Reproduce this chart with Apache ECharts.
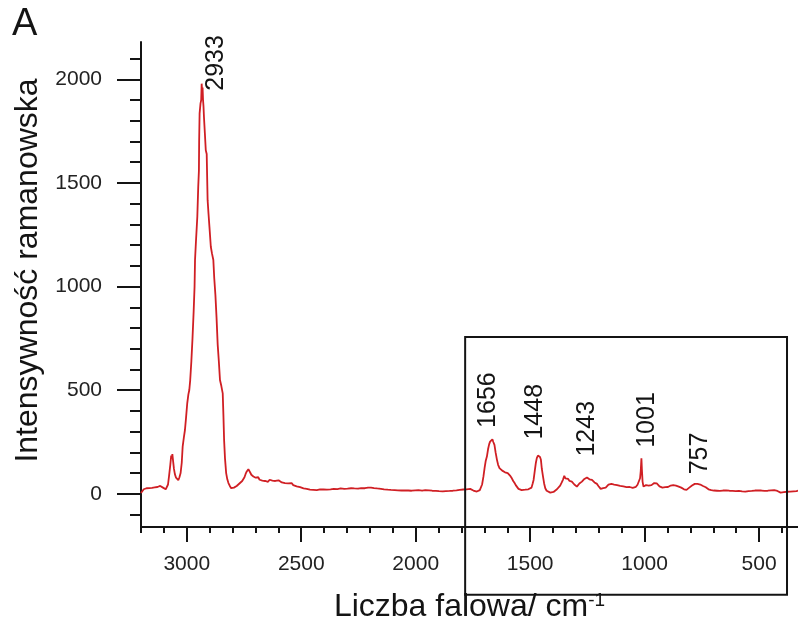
<!DOCTYPE html>
<html>
<head>
<meta charset="utf-8">
<script src="https://cdn.jsdelivr.net/npm/echarts@6/dist/echarts.min.js"></script>
<style>
  html, body { margin: 0; padding: 0; background: #fff; }
  #chart { width: 798px; height: 639px; }
</style>
</head>
<body>
<div id="chart"></div>
<script>
// Raman spectrum: [wavenumber cm-1, intensity]
const chRegion = [
  [3200, 4], [3195, 12], [3188, 22], [3182, 30], [3176, 27], [3170, 34], [3164, 28], [3158, 33],
  [3152, 29], [3146, 36], [3140, 31], [3134, 27], [3128, 33], [3122, 30], [3116, 38], [3110, 33],
  [3104, 30], [3098, 26], [3092, 22], [3087, 28], [3082, 45], [3077, 90], [3072, 140], [3068, 185],
  [3065, 170], [3063, 192], [3060, 160], [3056, 120], [3052, 95], [3047, 78], [3042, 70], [3037, 66],
  [3032, 80], [3027, 100], [3022, 150], [3018, 228], [3013, 270], [3008, 308], [3003, 370], [2998, 437],
  [2993, 480], [2989, 501], [2985, 549], [2980, 640], [2975, 750], [2970, 880], [2966, 1000], [2964, 1128],
  [2960, 1216], [2954, 1337], [2950, 1481], [2947, 1560], [2946, 1700], [2944, 1836], [2940, 1884], [2937, 1900],
  [2935, 1979], [2933, 1940], [2931, 1960], [2929, 1900], [2927, 1870], [2925, 1819], [2921, 1740], [2917, 1658],
  [2913, 1640], [2909, 1417], [2905, 1350], [2901, 1288], [2895, 1192], [2890, 1160], [2884, 1128], [2880, 1040],
  [2875, 960], [2870, 850], [2865, 720], [2860, 640], [2855, 549], [2849, 520], [2843, 485], [2840, 380],
  [2837, 260], [2833, 170], [2828, 100], [2823, 70], [2818, 52], [2812, 38], [2806, 27], [2800, 25]
];

const midRegion = [
  [2794, 30], [2788, 34], [2782, 38], [2776, 44], [2770, 50], [2764, 55], [2758, 62], [2753, 67],
  [2748, 80], [2743, 96], [2738, 108], [2734, 116], [2731, 119], [2727, 110], [2723, 103], [2718, 92],
  [2714, 96], [2709, 84], [2704, 88], [2699, 78], [2694, 75], [2688, 80], [2682, 68], [2676, 74],
  [2670, 64], [2664, 70], [2658, 62], [2651, 66], [2645, 58], [2638, 68], [2632, 60], [2626, 64],
  [2620, 55], [2613, 62], [2606, 58], [2599, 65], [2592, 60], [2585, 55], [2578, 62], [2571, 52],
  [2564, 58], [2557, 50], [2549, 48], [2542, 52], [2535, 42], [2528, 45], [2520, 36], [2513, 40],
  [2505, 32], [2498, 36], [2490, 26], [2483, 30], [2476, 24], [2469, 28], [2462, 20], [2455, 25],
  [2447, 19], [2440, 24], [2432, 18], [2425, 26], [2418, 21], [2410, 28], [2403, 22], [2395, 27],
  [2388, 20], [2380, 26], [2372, 22], [2365, 30], [2358, 24], [2350, 28], [2342, 23], [2335, 30],
  [2328, 26], [2320, 31], [2312, 24], [2305, 29], [2298, 25], [2290, 32], [2282, 27], [2275, 33],
  [2268, 26], [2260, 30], [2252, 25], [2245, 31], [2238, 28], [2230, 33], [2222, 27], [2215, 32],
  [2208, 30], [2200, 38], [2195, 30], [2188, 36], [2182, 28], [2175, 33], [2168, 26], [2160, 30],
  [2152, 24], [2145, 28], [2138, 22], [2130, 26], [2122, 20], [2115, 24], [2108, 19], [2100, 23],
  [2092, 18], [2085, 22], [2078, 17], [2070, 21], [2062, 16], [2055, 20], [2047, 17], [2040, 22],
  [2032, 16], [2025, 20], [2018, 15], [2010, 21], [2002, 17], [1995, 22], [1988, 18], [1980, 21],
  [1972, 16], [1965, 20], [1958, 18], [1950, 22], [1942, 17], [1935, 20], [1928, 15], [1920, 19],
  [1912, 14], [1905, 18], [1898, 13], [1890, 17], [1882, 12], [1875, 16], [1868, 13], [1860, 18],
  [1852, 14], [1845, 19], [1838, 15], [1830, 20], [1822, 17], [1815, 22], [1808, 19], [1800, 24],
  [1792, 21], [1785, 26], [1778, 22], [1770, 27], [1762, 24], [1755, 20], [1748, 16], [1740, 14]
];

const fingerprint = [
  [1733, 11], [1726, 15], [1720, 18], [1715, 22], [1710, 45], [1704, 84], [1699, 125], [1694, 160],
  [1689, 180], [1684, 215], [1679, 240], [1675, 252], [1670, 258], [1665, 263], [1661, 250], [1656, 236],
  [1651, 200], [1645, 164], [1640, 140], [1634, 124], [1628, 118], [1622, 112], [1616, 108], [1610, 104],
  [1604, 110], [1598, 100], [1592, 96], [1586, 85], [1580, 75], [1574, 62], [1568, 52], [1563, 42],
  [1558, 35], [1551, 24], [1544, 16], [1537, 18], [1530, 15], [1522, 20], [1515, 17], [1508, 22],
  [1500, 19], [1494, 30], [1489, 50], [1485, 67], [1480, 110], [1475, 150], [1471, 172], [1466, 185],
  [1461, 188], [1457, 178], [1453, 164], [1449, 120], [1444, 84], [1439, 50], [1434, 27], [1428, 15],
  [1420, 10], [1412, 6], [1405, 12], [1398, 9], [1390, 18], [1383, 22], [1376, 27], [1369, 40],
  [1362, 55], [1356, 70], [1351, 87], [1346, 75], [1340, 67], [1334, 72], [1328, 62], [1323, 66],
  [1318, 59], [1312, 52], [1307, 45], [1301, 40], [1296, 35], [1291, 42], [1285, 50], [1280, 56],
  [1274, 59], [1268, 66], [1263, 72], [1258, 75], [1252, 79], [1247, 74], [1241, 70], [1236, 67],
  [1230, 67], [1224, 60], [1219, 55], [1213, 52], [1208, 48], [1202, 38], [1197, 30], [1192, 24],
  [1186, 19], [1181, 28], [1176, 35], [1170, 30], [1165, 35], [1158, 44], [1151, 40], [1145, 48],
  [1139, 51], [1133, 45], [1126, 50], [1120, 42], [1114, 40], [1107, 38], [1100, 33], [1093, 36],
  [1086, 30], [1079, 32], [1072, 28], [1065, 33], [1058, 26], [1052, 29], [1045, 27], [1038, 34],
  [1031, 44], [1026, 51], [1020, 75], [1017, 110], [1014, 172], [1012, 120], [1009, 59], [1005, 35],
  [1000, 38], [994, 42], [988, 37], [982, 40], [976, 45], [970, 42], [964, 48], [958, 52],
  [952, 55], [947, 50], [941, 42], [935, 36], [929, 38], [922, 30], [916, 28], [910, 32],
  [904, 27], [898, 33], [892, 36], [886, 40], [880, 38], [875, 42], [869, 36], [863, 40],
  [857, 38], [851, 35], [846, 38], [840, 30], [834, 24], [828, 22], [822, 20], [817, 19],
  [811, 24], [805, 30], [799, 35], [793, 40], [787, 44], [781, 48], [775, 51], [769, 48],
  [763, 50], [757, 45], [751, 42], [745, 38], [739, 36], [733, 32], [727, 26], [721, 22]
];

const lowRegion = [
  [715, 22], [709, 18], [703, 20], [697, 16], [690, 19], [684, 15], [678, 18], [671, 14],
  [665, 17], [658, 16], [651, 13], [644, 17], [637, 12], [630, 15], [623, 11], [616, 14],
  [609, 10], [602, 13], [595, 11], [588, 14], [581, 10], [574, 12], [567, 15], [560, 11],
  [553, 16], [546, 13], [539, 18], [532, 14], [525, 19], [518, 16], [511, 20], [504, 17],
  [497, 21], [490, 16], [483, 19], [476, 14], [469, 18], [462, 15], [455, 19], [448, 17],
  [441, 21], [434, 18], [427, 22], [420, 14], [413, 10], [406, 6], [399, 10], [392, 8],
  [385, 13], [378, 10], [371, 14], [364, 11], [357, 15], [350, 12], [343, 16], [336, 13], [330, 16]
];

// peak annotations and where their (rotated) text starts
const peakNames = ['2933', '1656', '1448', '1243', '1001', '757'];
const peakLabelAnchor = [[2873, 1945], [1684, 318], [1479, 262], [1252, 180], [990, 222], [758, 94]];

// axis ticks
const xMajorTicks = [3000, 2500, 2000, 1500, 1000, 500];
const xMinorTicks = [3200, 3100, 3000, 2900, 2800, 2700, 2600, 2500, 2400, 2300, 2200, 2100, 2000, 1900,
  1800, 1700, 1600, 1500, 1400, 1300, 1200, 1100, 1000, 900, 800, 700, 600, 500, 400];
const yMajorTicks = [0, 500, 1000, 1500, 2000];
const yMinorTicks = [-100, 0, 100, 200, 300, 400, 500, 600, 700, 800, 900, 1000, 1100, 1200, 1300,
  1400, 1500, 1600, 1700, 1800, 1900, 2000, 2100];

// highlighted region (box)
const boxCorners = [[1784, 757], [378, -487]];

const spectrum = chRegion.concat(midRegion, fingerprint, lowRegion);

const chart = echarts.init(document.getElementById('chart'));

const ink = '#141414';
const tickFont = { fontFamily: 'Liberation Sans', fontSize: 21, color: '#222', formatter: v => String(v) };

const xRange = { min: 330, max: 3200, inverse: true };
const yRange = { min: -160, max: 2180 };

const option = {
  animation: false,
  backgroundColor: '#fff',
  grid: { left: 141, right: 0, top: 42, bottom: 112 },
  xAxis: [
    {
      type: 'value', ...xRange,
      name: 'Liczba falowa/ cm{sup|-1}',
      nameLocation: 'middle',
      nameGap: 64,
      nameTextStyle: {
        fontFamily: 'Liberation Sans', fontSize: 32, color: ink,
        rich: { sup: { fontFamily: 'Liberation Sans', fontSize: 19, color: ink, verticalAlign: 'top', padding: [0, 0, 12, 0] } }
      },
      axisLine: { onZero: false, lineStyle: { color: ink, width: 2 } },
      axisTick: { customValues: xMajorTicks, length: 15, lineStyle: { color: ink, width: 2 } },
      axisLabel: { customValues: xMajorTicks, margin: 27, ...tickFont },
      splitLine: { show: false }
    },
    {
      type: 'value', ...xRange,
      position: 'bottom',
      axisLine: { show: false, onZero: false },
      axisTick: { customValues: xMinorTicks, length: 6, lineStyle: { color: ink, width: 2 } },
      axisLabel: { show: false },
      splitLine: { show: false }
    }
  ],
  yAxis: [
    {
      type: 'value', ...yRange,
      name: 'Intensywność ramanowska',
      nameLocation: 'middle',
      nameGap: 95,
      nameRotate: 90,
      nameTextStyle: { fontFamily: 'Liberation Sans', fontSize: 32, color: ink, padding: [0, 0, 0, 28] },
      axisLine: { onZero: false, lineStyle: { color: ink, width: 2 } },
      axisTick: { customValues: yMajorTicks, length: 24, lineStyle: { color: ink, width: 2 } },
      axisLabel: { customValues: yMajorTicks, margin: 39, ...tickFont },
      splitLine: { show: false }
    },
    {
      type: 'value', ...yRange,
      position: 'left',
      axisLine: { show: false, onZero: false },
      axisTick: { customValues: yMinorTicks, length: 11, lineStyle: { color: ink, width: 2 } },
      axisLabel: { show: false },
      splitLine: { show: false }
    }
  ],
  series: [
    {
      type: 'line',
      data: spectrum,
      showSymbol: false,
      lineStyle: { color: '#d01f24', width: 1.8 },
      z: 3
    },
    {
      type: 'scatter',
      symbolSize: 0,
      silent: true,
      itemStyle: { opacity: 1 },
      data: peakNames.map((n, i) => ({ name: n, value: peakLabelAnchor[i] })),
      label: {
        show: true,
        formatter: '{b}',
        position: 'inside',
        rotate: 90,
        align: 'left',
        verticalAlign: 'middle',
        fontFamily: 'Liberation Sans',
        fontSize: 25,
        color: ink,
        textBorderWidth: 0
      }
    }
  ],
  graphic: [
    {
      type: 'text', left: 12, top: 6,
      style: { text: 'A', fontFamily: 'Liberation Sans', fontSize: 38, fill: ink }
    }
  ]
};

chart.setOption(option);

// box around the fingerprint region, placed through the axes
const p0 = chart.convertToPixel({ xAxisIndex: 0, yAxisIndex: 0 }, boxCorners[0]);
const p1 = chart.convertToPixel({ xAxisIndex: 0, yAxisIndex: 0 }, boxCorners[1]);
chart.setOption({
  graphic: [
    option.graphic[0],
    {
      type: 'rect',
      shape: { x: p0[0], y: p0[1], width: p1[0] - p0[0], height: p1[1] - p0[1] },
      style: { fill: 'none', stroke: ink, lineWidth: 2 },
      z: 10
    }
  ]
});
</script>
</body>
</html>
